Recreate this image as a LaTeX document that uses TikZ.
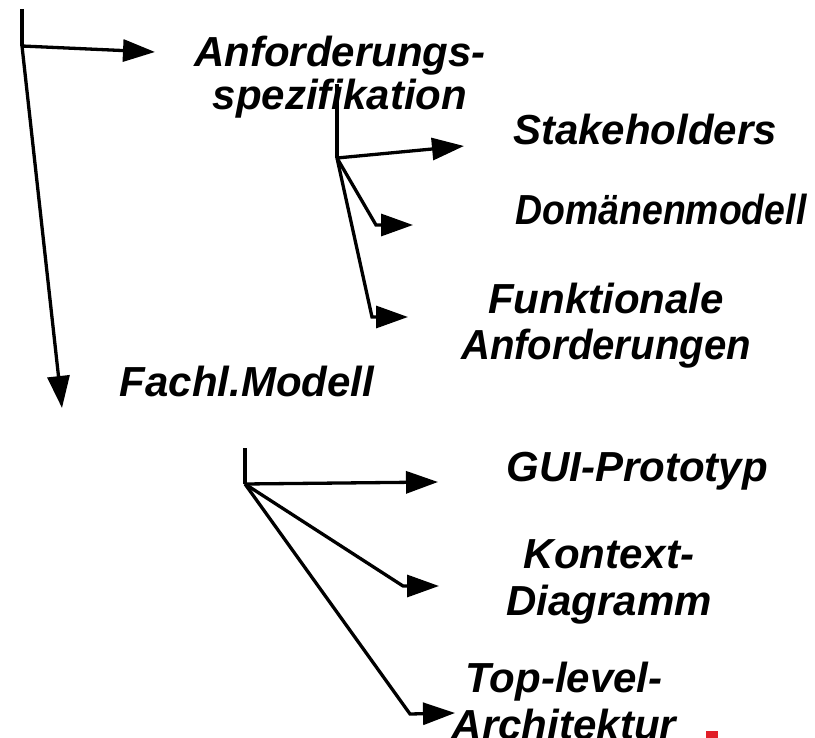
\documentclass[tikz,border=0pt]{standalone}
\usepackage{fontspec}
\setmainfont{Liberation Sans}
\usetikzlibrary{arrows.meta}
\definecolor{markred}{RGB}{225,30,40}
\tikzset{
  label/.style={font=\fontsize{42}{47}\selectfont\bfseries\itshape, inner sep=0pt, align=center, anchor=base},
  link/.style={line width=3.3pt, line join=miter},
  arrowlink/.style={link, -{Triangle[length=32pt,width=22pt]}}
}
\begin{document}
\begin{tikzpicture}[x=1pt,y=-1pt]
\useasboundingbox (0,0) rectangle (815,738);

% text labels (multi-line labels sit on the baseline of their last line)
\node[label] (anf)  at (340,110) {Anforderungs-\\[-4pt]spezifikation};
\node[label] (stk)  at (645,145) {Stakeholders};
\node[label] (dom)  at (661,225) {\scalebox{0.89}[1]{Domänenmodell}};
\node[label] (fkt)  at (606,360) {Funktionale\\\scalebox{0.955}[1]{Anforderungen}};
\node[label] (fach) at (247,397) {Fachl.Modell};
\node[label] (gui)  at (637,482) {GUI-Prototyp};
\node[label] (ktx)  at (609,615) {Kontext-\\Diagramm};
\node[label] (top)  at (564,739) {Top-level-\\Architektur};

% hub points, bends and arrow ends
\coordinate (aTop) at (22,9);
\coordinate (aHub) at (22,46);
\coordinate (aAnf) at (155,52);
\coordinate (aFach) at (62,408);

\coordinate (bTop) at (337,84);
\coordinate (bHub) at (337,158);
\coordinate (bStk) at (464,146);
\coordinate (bDomBend) at (376,225);
\coordinate (bDom) at (413,225);
\coordinate (bFktBend) at (372,317);
\coordinate (bFkt) at (408,317);

\coordinate (cTop) at (245,448);
\coordinate (cHub) at (245,484);
\coordinate (cGui) at (438,482);
\coordinate (cKtxBend) at (403,586);
\coordinate (cKtx) at (439,586);
\coordinate (cTopBend) at (410,714);
\coordinate (cArch) at (455,713);

% first level
\draw[link] (aTop) -- (aHub);
\draw[arrowlink] (aHub) -- (aAnf);
\draw[arrowlink] (aHub) -- (aFach);

% Anforderungsspezifikation branches
\draw[link] (bTop) -- (bHub);
\draw[arrowlink] (bHub) -- (bStk);
\draw[arrowlink] (bHub) -- (bDomBend) -- (bDom);
\draw[arrowlink] (bHub) -- (bFktBend) -- (bFkt);

% Fachl. Modell branches
\draw[link] (cTop) -- (cHub);
\draw[arrowlink] (cHub) -- (cGui);
\draw[arrowlink] (cHub) -- (cKtxBend) -- (cKtx);
\draw[arrowlink] (cHub) -- (cTopBend) -- (cArch);

% small red mark
\fill[markred] (706,731) rectangle (718,738);
\end{tikzpicture}
\end{document}
